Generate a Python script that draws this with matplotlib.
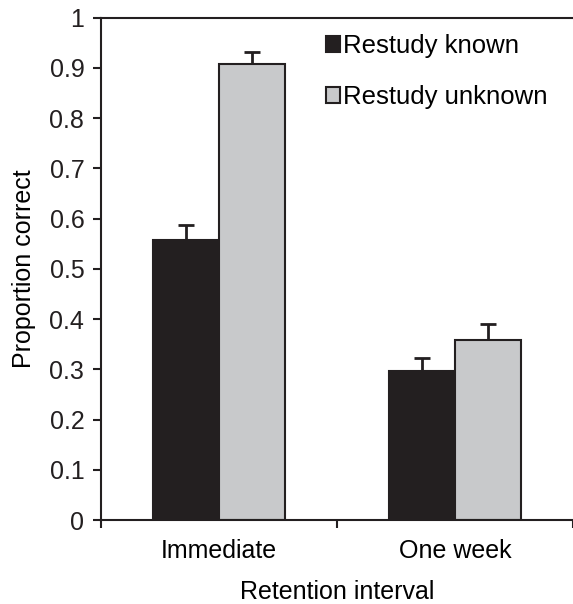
import matplotlib.pyplot as plt
import numpy as np

# Data
intervals = ["Immediate", "One week"]
series = ["Restudy known", "Restudy unknown"]
known = [0.557, 0.297]
known_err = [0.030, 0.025]
unknown = [0.907, 0.359]
unknown_err = [0.024, 0.031]
y_ticks = [0, 0.1, 0.2, 0.3, 0.4, 0.5, 0.6, 0.7, 0.8, 0.9, 1]
y_tick_labels = ["0", "0.1", "0.2", "0.3", "0.4", "0.5", "0.6", "0.7", "0.8", "0.9", "1"]

plt.rcParams["font.family"] = ["Liberation Sans", "DejaVu Sans"]

fig = plt.figure(figsize=(5.73, 6.04), dpi=100)
ax = fig.add_axes([0.1763, 0.139, 0.824, 0.832])

x = np.arange(len(intervals))
width = 0.28
edge = "#231f20"
err_style = {"elinewidth": 2, "capthick": 2, "ecolor": edge}

b1 = ax.bar(x - width / 2, known, width, color="#231f20", edgecolor=edge, linewidth=1.5,
            yerr=[np.zeros(len(known)), known_err], capsize=5.5,
            error_kw=err_style, label=series[0], zorder=2)
b2 = ax.bar(x + width / 2, unknown, width, color="#c8c9cb", edgecolor=edge, linewidth=1.5,
            yerr=[np.zeros(len(unknown)), unknown_err], capsize=5.5,
            error_kw=err_style, label=series[1], zorder=2)

# only the upper cap is drawn in the original
for container in (b1, b2):
    caps = container.errorbar.lines[1]
    caps[0].set_visible(False)

ax.set_xlim(-0.5, 1.465)
ax.set_ylim(0, 1)
ax.set_yticks(y_ticks)
ax.set_yticklabels(y_tick_labels, fontsize=18)
ax.set_xticks(x)
ax.set_xticklabels(intervals, fontsize=18)
ax.set_xticks([-0.5, 0.5, 1.5], minor=True)
ax.tick_params(axis="x", which="major", length=0, pad=14)
ax.tick_params(axis="x", which="minor", length=6, width=1.5, direction="out", color=edge)
ax.tick_params(axis="y", length=6, width=1.5, direction="out", color=edge, pad=6,
               labelcolor="#231f20")

for side in ["left", "bottom", "top"]:
    ax.spines[side].set_linewidth(1.5)
    ax.spines[side].set_color(edge)
ax.spines["right"].set_visible(False)

ax.set_ylabel("Proportion correct", fontsize=18, labelpad=10)
ax.set_xlabel("Retention interval", fontsize=18, labelpad=12)

ax.legend(loc="upper left", bbox_to_anchor=(0.455, 0.987), frameon=False, fontsize=18.5,
          handlelength=0.55, handleheight=0.55, handletextpad=0.12, labelspacing=1.05,
          borderaxespad=0)

fig.savefig("out.png", dpi=100)
